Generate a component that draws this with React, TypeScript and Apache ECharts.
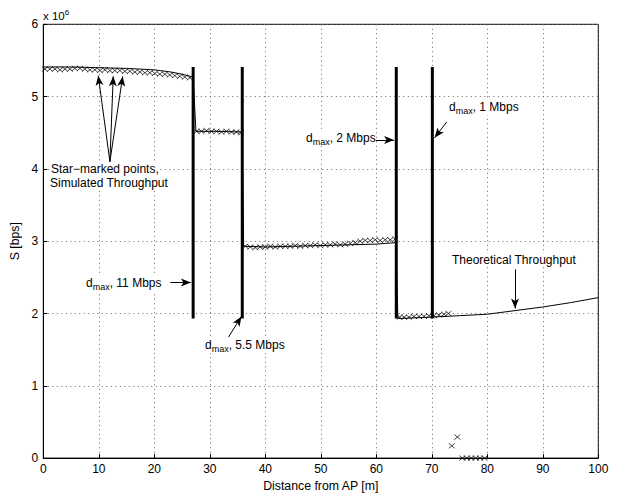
import React, { useEffect, useRef } from "react";
import * as echarts from "echarts";

// Theoretical throughput (x in m, y in 10^6 bps)
const theoX = [0, 5, 10, 15, 20, 23, 25, 27, 27.5, 31, 35.8, 36.1, 40, 45, 50, 55, 60, 63.5, 63.9, 70, 75, 80, 85, 90, 95, 100];
const theoY = [5.41, 5.41, 5.4, 5.39, 5.37, 5.34, 5.31, 5.27, 4.52, 4.52, 4.51, 2.93, 2.92, 2.93, 2.94, 2.95, 2.96, 2.98, 1.93, 1.95, 1.97, 1.99, 2.04, 2.09, 2.15, 2.22];

// Simulated throughput (marked points)
const simX1 = [0.3, 1.2, 2.1, 3.0, 3.9, 4.8, 5.7, 6.6, 7.5, 8.4, 9.3, 10.2, 11.1, 12.0, 12.9, 13.8, 14.7, 15.6, 16.5, 17.4, 18.3, 19.2, 20.1, 21.0, 21.9, 22.8, 23.7, 24.6, 25.5, 26.4];
const simY1 = [5.38, 5.38, 5.38, 5.37, 5.38, 5.38, 5.39, 5.39, 5.38, 5.37, 5.37, 5.36, 5.37, 5.36, 5.36, 5.36, 5.35, 5.35, 5.34, 5.34, 5.33, 5.33, 5.32, 5.31, 5.31, 5.3, 5.29, 5.28, 5.27, 5.26];
const simX2 = [27.6, 28.5, 29.4, 30.3, 31.2, 32.1, 33.0, 33.9, 34.8, 35.6];
const simY2 = [4.52, 4.52, 4.53, 4.52, 4.52, 4.51, 4.52, 4.51, 4.51, 4.5];
const simX3 = [36.4, 37.3, 38.2, 39.1, 40.0, 40.9, 41.8, 42.7, 43.6, 44.5, 45.4, 46.3, 47.2, 48.1, 49.0, 49.9, 50.8, 51.7, 52.6, 53.5, 54.4, 55.3, 56.2, 57.1, 58.0, 58.9, 59.8, 60.7, 61.6, 62.5, 63.4];
const simY3 = [2.93, 2.92, 2.91, 2.92, 2.92, 2.93, 2.92, 2.93, 2.93, 2.93, 2.94, 2.93, 2.94, 2.94, 2.95, 2.94, 2.95, 2.95, 2.96, 2.95, 2.96, 2.97, 2.98, 3.0, 3.01, 3.01, 3.02, 3.01, 3.02, 3.02, 3.03];
const simX4 = [64.2, 65.0, 65.9, 66.8, 67.7, 68.6, 69.5, 70.4, 71.3, 72.2, 73.0, 73.6, 74.6, 75.5, 76.3, 77.1, 77.9, 78.7, 79.5];
const simY4 = [1.95, 1.95, 1.95, 1.96, 1.96, 1.96, 1.97, 1.97, 1.98, 1.99, 2.0, 0.17, 0.29, 0, 0, 0, 0, 0, 0];

// d_max markers (vertical bars)
const barX = [27, 35.85, 63.6, 70.1];
const barBottom = 1.93;
const barTop = 5.41;

// Axis ticks
const xTicks = [0, 10, 20, 30, 40, 50, 60, 70, 80, 90, 100];
const yTicks = [0, 1, 2, 3, 4, 5, 6];

// Annotation arrows [from, to] in data coords
const arrows: number[][][] = [
  [[12.0, 4.1], [9.9, 5.29]],
  [[12.0, 4.1], [12.6, 5.28]],
  [[12.0, 4.1], [14.3, 5.28]],
  [[22.9, 2.43], [26.6, 2.43]],
  [[33.1, 1.64], [35.7, 1.96]],
  [[59.9, 4.4], [63.2, 4.4]],
  [[72.7, 4.65], [70.5, 4.43]],
  [[85.0, 2.61], [85.0, 2.07]],
];

const FONT = "'Liberation Sans', Arial, Helvetica, sans-serif";

function dmaxText(rest: string, left: number, y: number) {
  return {
    type: "text",
    left,
    top: y - 8,
    z: 10,
    style: {
      text: "{a|d}{b|max}{a|" + rest + "}",
      font: "12px " + FONT,
      fill: "#000",
      backgroundColor: "#fff",
      rich: {
        a: { fontSize: 12, fontFamily: FONT, lineHeight: 16, verticalAlign: "middle", fill: "#000" },
        b: { fontSize: 9, fontFamily: FONT, lineHeight: 8, verticalAlign: "bottom", fill: "#000" },
      },
    },
  };
}

function plainText(text: string, left: number, top: number) {
  return {
    type: "text",
    left,
    top,
    z: 10,
    style: { text, font: "12px " + FONT, fill: "#000", backgroundColor: "#fff", padding: [0, 0, 1, 0] },
  };
}

export default function App() {
  const ref = useRef<HTMLDivElement>(null);
  useEffect(() => {
    if (!ref.current) return;
    const chart = echarts.init(ref.current, null, { renderer: "svg" });
    const simData = [
      ...simX1.map((x, i) => [x, simY1[i]]),
      ...simX2.map((x, i) => [x, simY2[i]]),
      ...simX3.map((x, i) => [x, simY3[i]]),
      ...simX4.map((x, i) => [x, simY4[i]]),
    ];
    const barSeries = barX.map((x) => ({
      type: "line",
      data: [
        [x, barBottom],
        [x, barTop],
      ],
      showSymbol: false,
      lineStyle: { color: "#000", width: 3 },
      silent: true,
      z: 4,
    }));
    const axisLabelStyle = { color: "#000", fontSize: 12, fontFamily: FONT };
    const splitStyle = { show: true, lineStyle: { color: "#666", type: [1, 3.5] as any, width: 1 } };
    chart.setOption({
      animation: false,
      backgroundColor: "#fff",
      grid: { left: 43.3, right: 32.7, top: 24.3, bottom: 34.7, show: true, borderColor: "#000", borderWidth: 1, backgroundColor: "transparent" },
      xAxis: {
        type: "value",
        min: xTicks[0],
        max: xTicks[xTicks.length - 1],
        interval: 10,
        name: "Distance from AP [m]",
        nameLocation: "middle",
        nameGap: 18,
        nameTextStyle: { color: "#000", fontSize: 12.3, fontFamily: FONT },
        axisLine: { lineStyle: { color: "#000", width: 1 } },
        axisTick: { inside: true, length: 4, lineStyle: { color: "#000" } },
        axisLabel: { ...axisLabelStyle, margin: 5 },
        splitLine: splitStyle,
      },
      yAxis: {
        type: "value",
        min: yTicks[0],
        max: yTicks[yTicks.length - 1],
        interval: 1,
        name: "S [bps]",
        nameLocation: "middle",
        nameGap: 18,
        nameTextStyle: { color: "#000", fontSize: 12.3, fontFamily: FONT },
        axisLine: { show: true, lineStyle: { color: "#000", width: 1 } },
        axisTick: { show: true, inside: true, length: 4, lineStyle: { color: "#000" } },
        axisLabel: { ...axisLabelStyle, margin: 5 },
        splitLine: splitStyle,
      },
      series: [
        {
          type: "line",
          data: theoX.map((x, i) => [x, theoY[i]]),
          showSymbol: false,
          lineStyle: { color: "#000", width: 1 },
          silent: true,
          z: 3,
          markLine: {
            silent: true,
            symbol: ["none", "arrow"],
            symbolSize: [6, 10],
            label: { show: false },
            lineStyle: { color: "#000", width: 1, type: "solid" },
            data: arrows.map(([a, b]) => [{ coord: a }, { coord: b }]),
          },
        },
        {
          type: "scatter",
          data: simData,
          symbol: "path://M0 0L10 8M10 0L0 8",
          symbolSize: [6, 5],
          itemStyle: { color: "transparent", borderColor: "#000", borderWidth: 0.9 },
          silent: true,
          z: 5,
        },
        ...barSeries,
      ],
      graphic: [
        {
          type: "text",
          left: 43,
          top: 8,
          style: {
            text: "{a|x 10}{b|6}",
            font: "11px " + FONT,
            rich: {
              a: { fontSize: 11.5, fontFamily: FONT, lineHeight: 16, verticalAlign: "middle", fill: "#000" },
              b: { fontSize: 8, fontFamily: FONT, lineHeight: 8, verticalAlign: "top", fill: "#000" },
            },
          },
        },
        plainText("Star\u2212marked points,", 51, 163),
        plainText("Simulated Throughput", 50, 177),
        dmaxText(", 11 Mbps", 86, 283),
        dmaxText(", 5.5 Mbps", 205, 345),
        dmaxText(", 2 Mbps", 306, 138),
        dmaxText(", 1 Mbps", 449, 107),
        plainText("Theoretical Throughput", 452, 254),
      ],
    });
    return () => chart.dispose();
  }, []);
  return <div ref={ref} style={{ width: 631, height: 497, position: "absolute", left: 0, top: 0 }} />;
}
